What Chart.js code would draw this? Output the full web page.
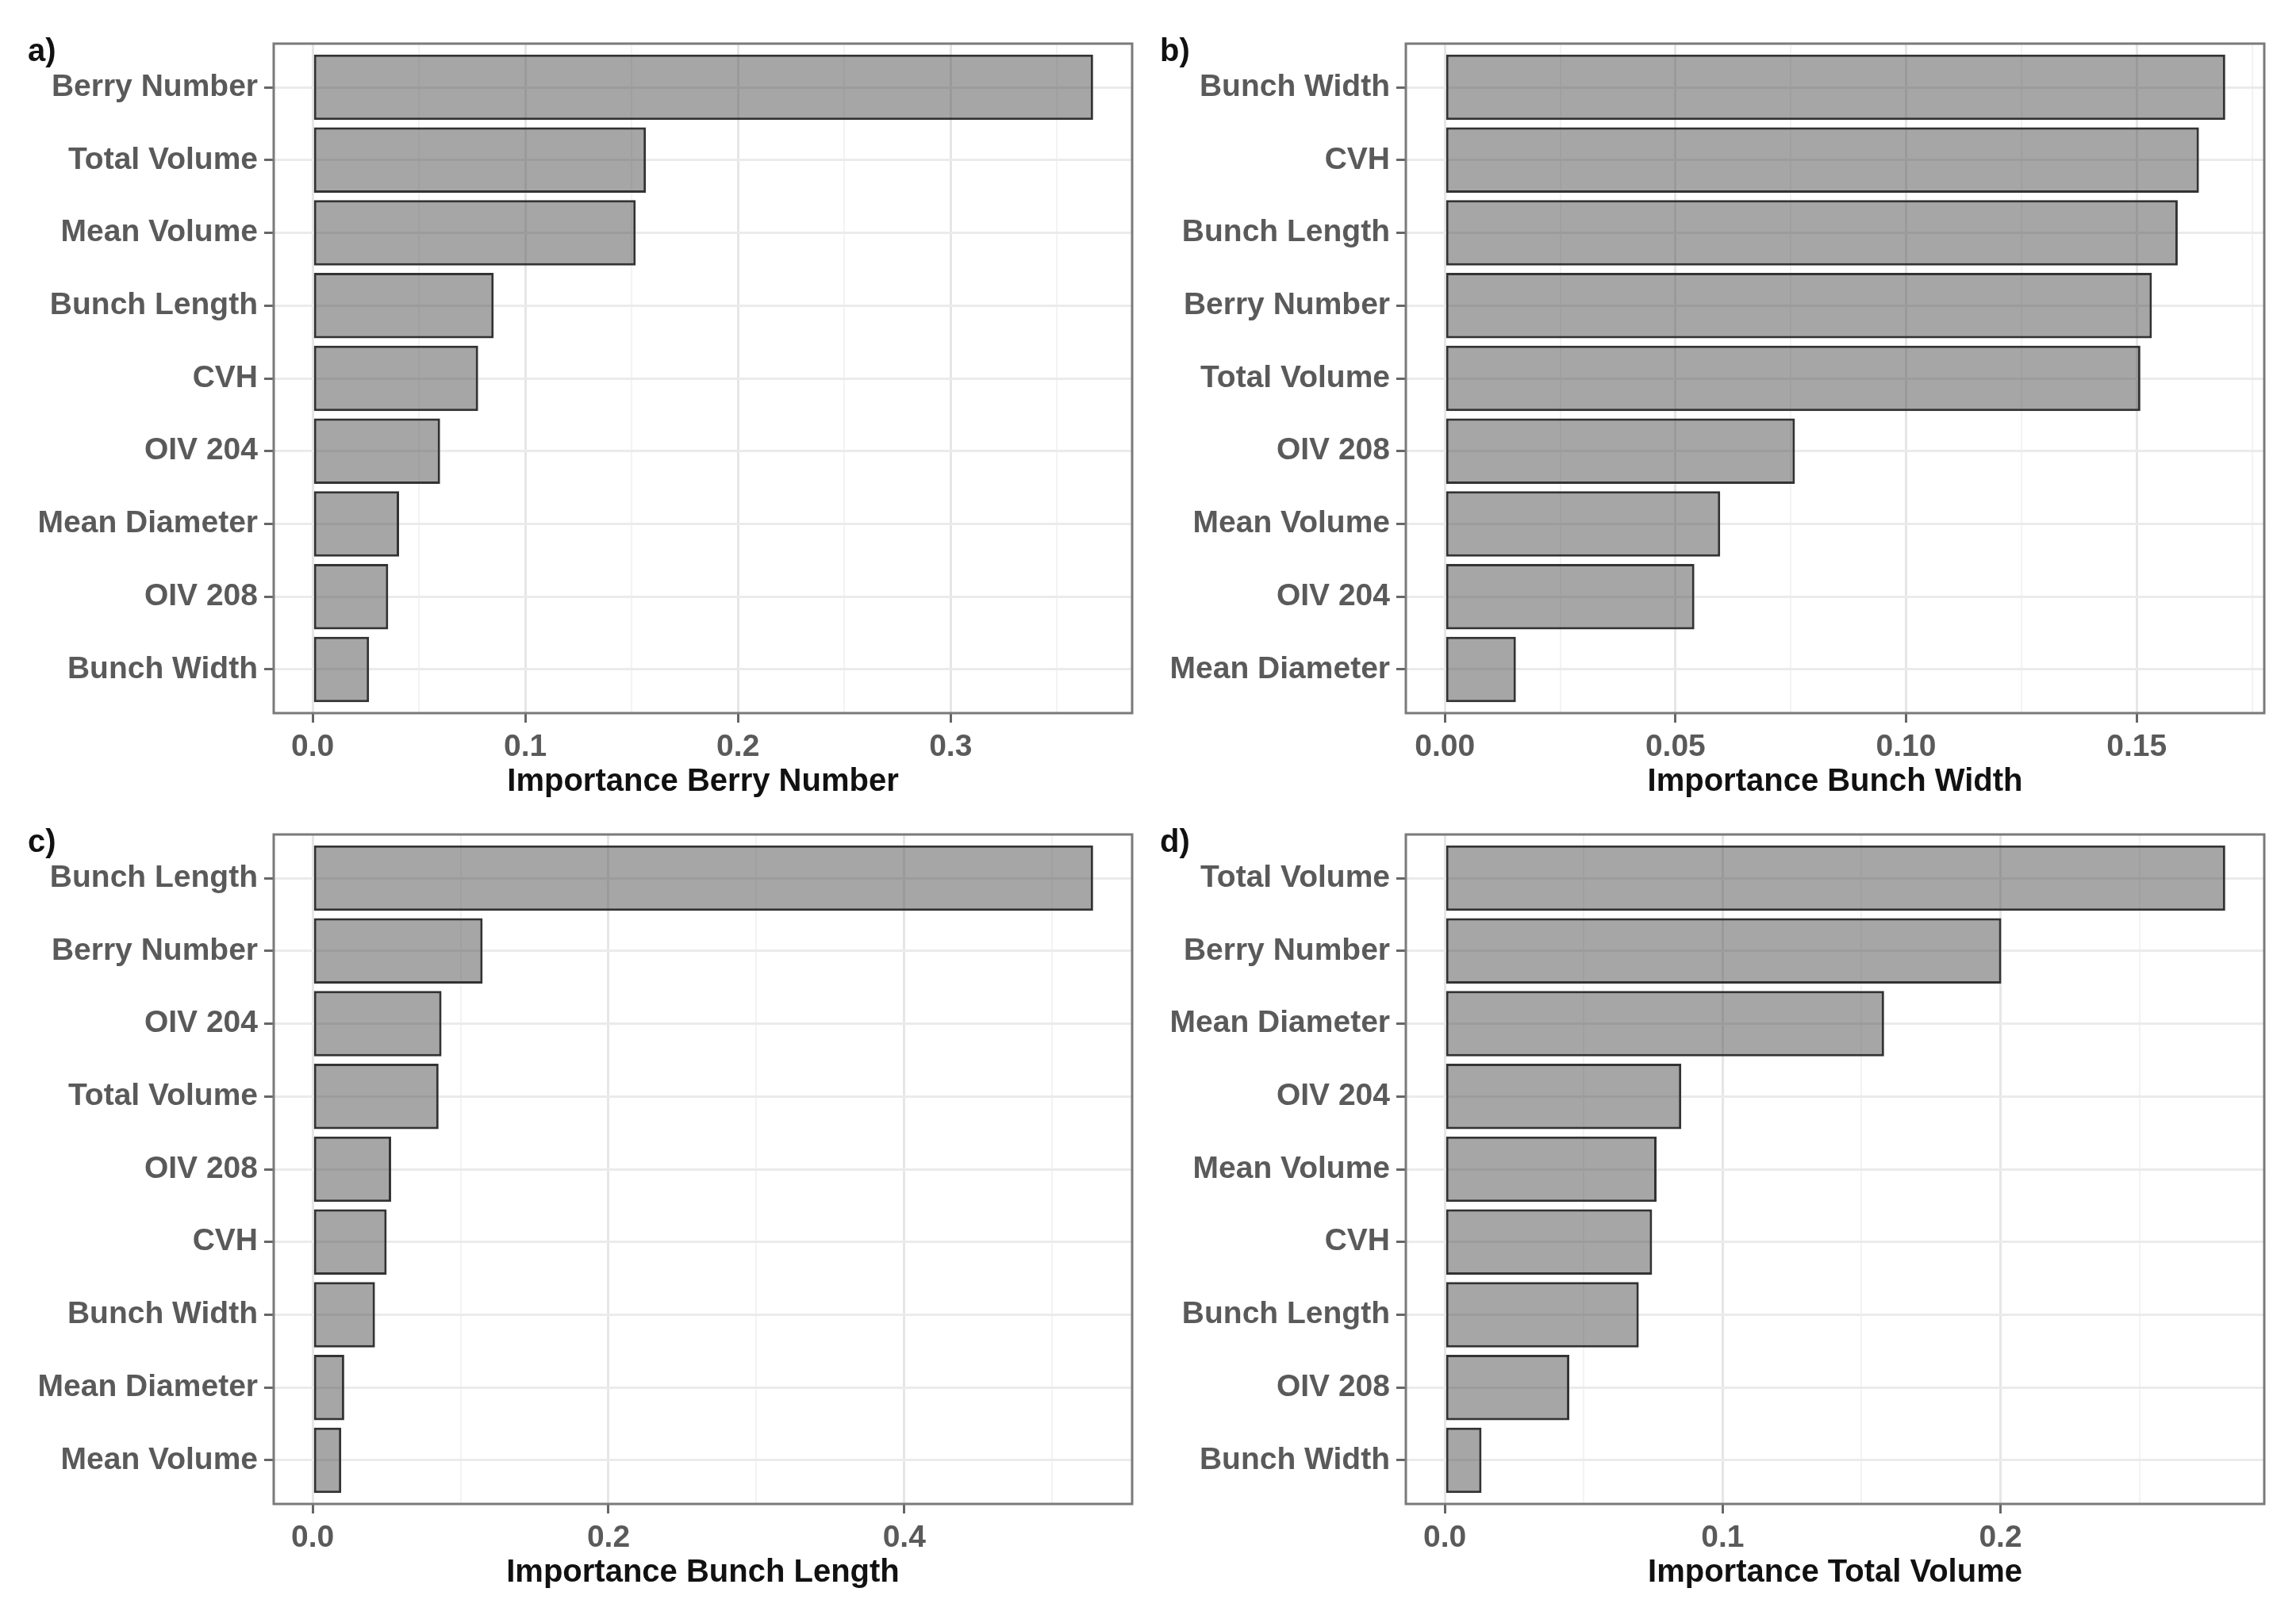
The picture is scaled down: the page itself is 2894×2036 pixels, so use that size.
<!DOCTYPE html>
<html>
<head>
<meta charset="utf-8">
<script src="https://cdn.jsdelivr.net/npm/chart.js@4.4.1/dist/chart.umd.min.js"></script>
<style>
  html, body { margin: 0; padding: 0; background: #fff; }
  body { width: 2894px; height: 2036px; position: relative; overflow: hidden; }
  canvas { position: absolute; }
</style>
</head>
<body>
<canvas id="chartA" width="1447" height="1018" style="left:0px;top:0px"></canvas>
<canvas id="chartB" width="1447" height="1018" style="left:1427px;top:0px"></canvas>
<canvas id="chartC" width="1447" height="1018" style="left:0px;top:997px"></canvas>
<canvas id="chartD" width="1447" height="1018" style="left:1427px;top:997px"></canvas>
<script>
// a) Berry Number
const labelsA = ['Berry Number', 'Total Volume', 'Mean Volume', 'Bunch Length', 'CVH', 'OIV 204', 'Mean Diameter', 'OIV 208', 'Bunch Width'];
const valuesA = [0.367, 0.1567, 0.1519, 0.0851, 0.0778, 0.0599, 0.0406, 0.0355, 0.0265];
const majorA = [0, 0.1, 0.2, 0.3];
const minorA = [0.05, 0.15, 0.25, 0.35];
const tickLabelsA = ['0.0', '0.1', '0.2', '0.3'];

// b) Bunch Width
const labelsB = ['Bunch Width', 'CVH', 'Bunch Length', 'Berry Number', 'Total Volume', 'OIV 208', 'Mean Volume', 'OIV 204', 'Mean Diameter'];
const valuesB = [0.1692, 0.1635, 0.1589, 0.1533, 0.1508, 0.0759, 0.0597, 0.0541, 0.0154];
const majorB = [0, 0.05, 0.10, 0.15];
const minorB = [0.025, 0.075, 0.125, 0.175];
const tickLabelsB = ['0.00', '0.05', '0.10', '0.15'];

// c) Bunch Length
const labelsC = ['Bunch Length', 'Berry Number', 'OIV 204', 'Total Volume', 'OIV 208', 'CVH', 'Bunch Width', 'Mean Diameter', 'Mean Volume'];
const valuesC = [0.5277, 0.1149, 0.0871, 0.0851, 0.053, 0.050, 0.0421, 0.0213, 0.0193];
const majorC = [0, 0.2, 0.4];
const minorC = [0.1, 0.3, 0.5];
const tickLabelsC = ['0.0', '0.2', '0.4'];

// d) Total Volume
const labelsD = ['Total Volume', 'Berry Number', 'Mean Diameter', 'OIV 204', 'Mean Volume', 'CVH', 'Bunch Length', 'OIV 208', 'Bunch Width'];
const valuesD = [0.2809, 0.2003, 0.1581, 0.0851, 0.0762, 0.0746, 0.0698, 0.0448, 0.0132];
const majorD = [0, 0.1, 0.2];
const minorD = [0.05, 0.15, 0.25];
const tickLabelsD = ['0.0', '0.1', '0.2'];

const FONT = "'Liberation Sans', Arial, 'DejaVu Sans', sans-serif";

// panel frame + "a)" style tag
const panelPlugin = {
  id: 'panelDecor',
  afterDraw(chart, args, opts) {
    const { ctx, chartArea } = chart;
    ctx.save();
    ctx.strokeStyle = '#7a7a7a';
    ctx.lineWidth = 3;
    ctx.strokeRect(chartArea.left, chartArea.top, chartArea.right - chartArea.left, chartArea.bottom - chartArea.top);
    ctx.fillStyle = '#111';
    ctx.font = 'bold 40px ' + FONT;
    ctx.textBaseline = 'middle';
    ctx.textAlign = 'left';
    ctx.fillText(opts.tag, 35, 66);
    ctx.restore();
  }
};

function makePanel(id, tag, title, labels, values, majors, minors, tickLabels) {
  const top = Math.max(...values);
  const isMajor = v => majors.some(m => Math.abs(m - v) < 1e-9);
  return new Chart(document.getElementById(id), {
    type: 'bar',
    data: {
      datasets: [{
        data: values.map((v, i) => ({ x: v, y: i })),
        backgroundColor: 'rgba(78,78,78,0.5)',
        borderColor: '#333333',
        borderWidth: 3,
        borderSkipped: false,
        barPercentage: 0.9,
        categoryPercentage: 1.0
      }]
    },
    options: {
      indexAxis: 'y',
      responsive: false,
      devicePixelRatio: 1,
      animation: false,
      layout: { padding: { left: 0, top: 55, right: 20, bottom: 0 } },
      plugins: {
        legend: { display: false },
        tooltip: { enabled: false },
        panelDecor: { tag: tag }
      },
      scales: {
        x: {
          type: 'linear',
          min: -0.05 * top,
          max: 1.05 * top,
          afterBuildTicks: axis => {
            axis.ticks = majors.concat(minors).sort((p, q) => p - q).map(v => ({ value: v }));
          },
          afterFit: axis => { axis.height = 119; },
          ticks: {
            autoSkip: false,
            maxRotation: 0,
            padding: 8,
            color: '#5a5a5a',
            font: { family: FONT, size: 39, weight: 'bold' },
            callback: v => {
              const k = majors.findIndex(m => Math.abs(m - v) < 1e-9);
              return k >= 0 ? tickLabels[k] : '';
            }
          },
          grid: {
            color: ctx => (ctx.tick && isMajor(ctx.tick.value)) ? '#e6e6e6' : '#f3f3f3',
            lineWidth: ctx => (ctx.tick && isMajor(ctx.tick.value)) ? 3 : 2,
            tickColor: ctx => (ctx.tick && isMajor(ctx.tick.value)) ? '#666666' : 'rgba(0,0,0,0)',
            tickLength: 12,
            tickWidth: 3
          },
          border: { display: false },
          title: {
            display: true,
            text: title,
            color: '#111',
            font: { family: FONT, size: 40, weight: 'bold' },
            padding: { top: 8, bottom: 8 }
          }
        },
        y: {
          type: 'linear',
          reverse: true,
          offset: false,
          min: -0.6,
          max: 8.6,
          afterBuildTicks: axis => {
            axis.ticks = labels.map((_, i) => ({ value: i }));
          },
          afterFit: axis => { axis.width = 345; },
          ticks: {
            autoSkip: false,
            padding: 8,
            color: '#5a5a5a',
            font: { family: FONT, size: 39, weight: 'bold' },
            callback: v => labels[v]
          },
          grid: {
            offset: false,
            color: '#ebebeb',
            lineWidth: 3,
            tickColor: '#666666',
            tickLength: 12,
            tickWidth: 3
          },
          border: { display: false }
        }
      }
    },
    plugins: [panelPlugin]
  });
}

makePanel('chartA', 'a)', 'Importance Berry Number', labelsA, valuesA, majorA, minorA, tickLabelsA);
makePanel('chartB', 'b)', 'Importance Bunch Width', labelsB, valuesB, majorB, minorB, tickLabelsB);
makePanel('chartC', 'c)', 'Importance Bunch Length', labelsC, valuesC, majorC, minorC, tickLabelsC);
makePanel('chartD', 'd)', 'Importance Total Volume', labelsD, valuesD, majorD, minorD, tickLabelsD);
</script>
</body>
</html>
